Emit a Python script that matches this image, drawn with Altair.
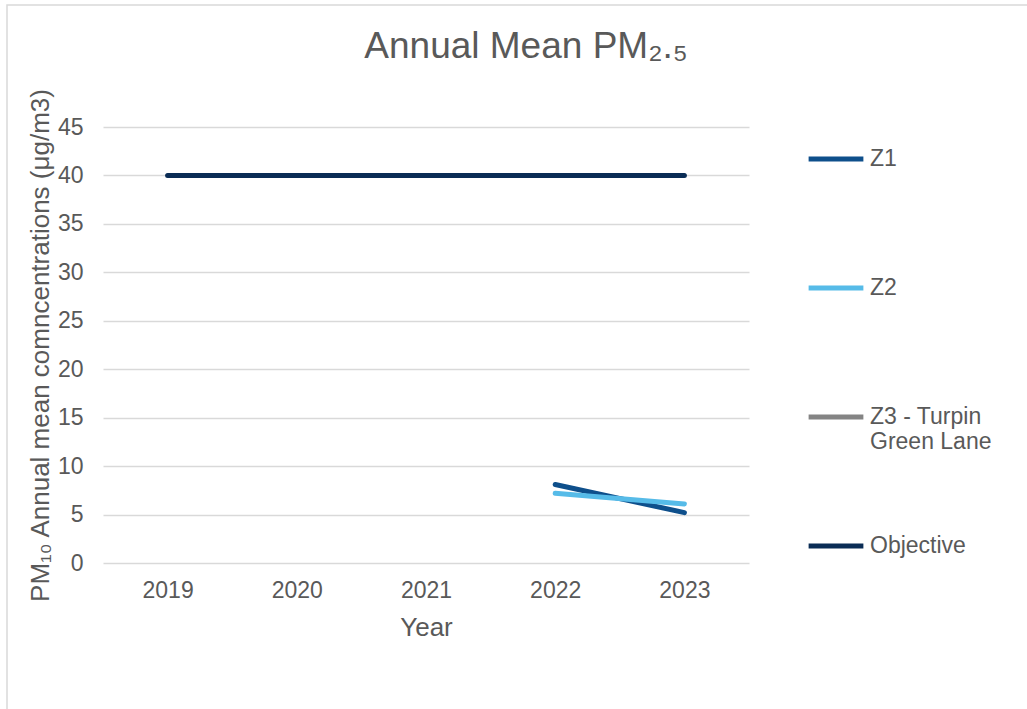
import altair as alt
import pandas as pd

years = ["2019", "2020", "2021", "2022", "2023"]
series_names = ["Z1", "Z2", "Z3 - Turpin Green Lane", "Objective"]
series_colors = ["#0e4f8b", "#56bbe8", "#848484", "#0a2c55"]

z1_years = ["2022", "2023"]
z1_values = [8.1, 5.2]
z2_years = ["2022", "2023"]
z2_values = [7.2, 6.1]
objective_years = years
objective_values = [40, 40, 40, 40, 40]

rows = []
for y, v in zip(z1_years, z1_values):
    rows.append({"Year": y, "Value": v, "Series": "Z1"})
for y, v in zip(z2_years, z2_values):
    rows.append({"Year": y, "Value": v, "Series": "Z2"})
for y, v in zip(objective_years, objective_values):
    rows.append({"Year": y, "Value": v, "Series": "Objective"})
df = pd.DataFrame(rows)

FONT = "Liberation Sans"
TITLE_FONT = "Liberation Sans, Noto Sans"
GREY = "#595959"

label_expr = (
    "datum.label == 'Z3 - Turpin Green Lane' ? ['Z3 - Turpin', 'Green Lane'] : [datum.label, '']"
)

lines = alt.Chart(df).mark_line(strokeWidth=5, strokeCap="round").encode(
    x=alt.X(
        "Year:N",
        sort=years,
        scale=alt.Scale(domain=years, paddingInner=0, paddingOuter=0.5),
        axis=alt.Axis(
            title="Year",
            labelAngle=0,
            ticks=False,
            domain=False,
            grid=False,
            labelFontSize=23,
            labelColor=GREY,
            labelPadding=16,
            titleFontSize=26,
            titleFontWeight="normal",
            titleColor=GREY,
            titlePadding=12,
        ),
    ),
    y=alt.Y(
        "Value:Q",
        scale=alt.Scale(domain=[0, 45]),
        axis=alt.Axis(
            title="PM₁₀ Annual mean comncentrations (μg/m3)",
            titleFont=TITLE_FONT,
            values=list(range(0, 50, 5)),
            ticks=False,
            domain=False,
            gridColor="#d9d9d9",
            gridWidth=1.5,
            labelFontSize=23,
            labelColor=GREY,
            labelPadding=20,
            titleFontSize=26,
            titleFontWeight="normal",
            titleColor=GREY,
            titlePadding=4,
        ),
    ),
    color=alt.Color(
        "Series:N",
        scale=alt.Scale(domain=series_names, range=series_colors),
        legend=alt.Legend(
            title=None,
            orient="none",
            legendX=703,
            legendY=2,
            symbolType="stroke",
            symbolSize=3000,
            symbolStrokeWidth=5,
            labelFontSize=23,
            labelColor=GREY,
            labelFont=FONT,
            labelOffset=4,
            labelExpr=label_expr,
            rowPadding=62,
            labelLimit=300,
        ),
    ),
    detail="Series:N",
)

border = alt.Chart(pd.DataFrame({"k": [0]})).mark_rect(
    fill=None, stroke="#d9d9d9", strokeWidth=1.5
).encode(
    x=alt.value(-96),
    y=alt.value(-122),
    x2=alt.value(1000),
    y2=alt.value(700),
)

chart = alt.layer(border, lines).properties(
    width=646,
    height=436,
    padding={"left": 103, "top": 127, "right": 278, "bottom": 146},
    autosize=alt.AutoSizeParams(type="none"),
    title=alt.TitleParams(
        text="Annual Mean PM₂.₅",
        fontSize=37,
        font=TITLE_FONT,
        fontWeight="normal",
        color=GREY,
        anchor="middle",
        dx=100,
        offset=-62,
    ),
).configure(font=FONT).configure_view(stroke=None)

chart.save("out.html", embed_options={"renderer": "svg", "actions": False})
